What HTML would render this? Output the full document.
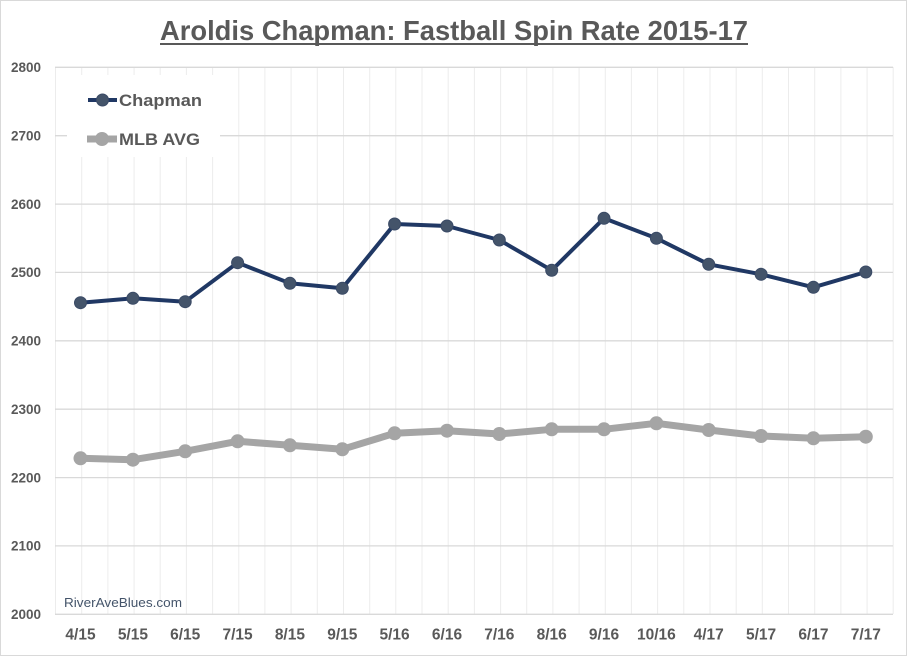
<!DOCTYPE html>
<html><head><meta charset="utf-8"><style>
html,body{margin:0;padding:0;background:#fff;}
svg{display:block;}
text{font-family:"Liberation Sans",Arial,sans-serif;}
</style></head><body>
<svg width="907" height="656" viewBox="0 0 907 656" xmlns="http://www.w3.org/2000/svg">
<rect x="0.5" y="0.5" width="906" height="655" fill="#fff" stroke="#d9d9d9" stroke-width="1"/>
<!-- title -->
<text x="160" y="40" font-size="28" font-weight="bold" fill="#595959" textLength="588" lengthAdjust="spacingAndGlyphs">Aroldis Chapman: Fastball Spin Rate 2015-17</text>
<line x1="160" y1="44" x2="748" y2="44" stroke="#595959" stroke-width="2"/>
<!-- vertical gridlines -->
<g stroke="#ececec" stroke-width="1">
<line x1="55.5" y1="67" x2="55.5" y2="614"/><line x1="81.7" y1="67" x2="81.7" y2="614"/><line x1="107.9" y1="67" x2="107.9" y2="614"/><line x1="134.1" y1="67" x2="134.1" y2="614"/><line x1="160.2" y1="67" x2="160.2" y2="614"/><line x1="186.4" y1="67" x2="186.4" y2="614"/><line x1="212.6" y1="67" x2="212.6" y2="614"/><line x1="238.8" y1="67" x2="238.8" y2="614"/><line x1="264.9" y1="67" x2="264.9" y2="614"/><line x1="291.1" y1="67" x2="291.1" y2="614"/><line x1="317.3" y1="67" x2="317.3" y2="614"/><line x1="343.5" y1="67" x2="343.5" y2="614"/><line x1="369.7" y1="67" x2="369.7" y2="614"/><line x1="395.8" y1="67" x2="395.8" y2="614"/><line x1="422.0" y1="67" x2="422.0" y2="614"/><line x1="448.2" y1="67" x2="448.2" y2="614"/><line x1="474.4" y1="67" x2="474.4" y2="614"/><line x1="500.6" y1="67" x2="500.6" y2="614"/><line x1="526.7" y1="67" x2="526.7" y2="614"/><line x1="552.9" y1="67" x2="552.9" y2="614"/><line x1="579.1" y1="67" x2="579.1" y2="614"/><line x1="605.3" y1="67" x2="605.3" y2="614"/><line x1="631.4" y1="67" x2="631.4" y2="614"/><line x1="657.6" y1="67" x2="657.6" y2="614"/><line x1="683.8" y1="67" x2="683.8" y2="614"/><line x1="710.0" y1="67" x2="710.0" y2="614"/><line x1="736.2" y1="67" x2="736.2" y2="614"/><line x1="762.3" y1="67" x2="762.3" y2="614"/><line x1="788.5" y1="67" x2="788.5" y2="614"/><line x1="814.7" y1="67" x2="814.7" y2="614"/><line x1="840.9" y1="67" x2="840.9" y2="614"/><line x1="867.1" y1="67" x2="867.1" y2="614"/><line x1="893.2" y1="67" x2="893.2" y2="614"/>
</g>
<!-- horizontal gridlines -->
<g stroke="#d9d9d9" stroke-width="1.3">
<line x1="55" y1="67.3" x2="893" y2="67.3"/><line x1="55" y1="135.7" x2="893" y2="135.7"/><line x1="55" y1="204.1" x2="893" y2="204.1"/><line x1="55" y1="272.4" x2="893" y2="272.4"/><line x1="55" y1="340.8" x2="893" y2="340.8"/><line x1="55" y1="409.2" x2="893" y2="409.2"/><line x1="55" y1="477.6" x2="893" y2="477.6"/><line x1="55" y1="545.9" x2="893" y2="545.9"/><line x1="55" y1="614.3" x2="893" y2="614.3"/>
</g>
<!-- y labels -->
<g font-size="13.5" font-weight="bold" fill="#595959" text-anchor="end">
<text x="41" y="72">2800</text><text x="41" y="140.4">2700</text><text x="41" y="208.8">2600</text><text x="41" y="277.1">2500</text><text x="41" y="345.5">2400</text><text x="41" y="413.9">2300</text><text x="41" y="482.3">2200</text><text x="41" y="550.6">2100</text><text x="41" y="619">2000</text>
</g>
<!-- x labels -->
<g font-size="15.5" font-weight="bold" fill="#595959" text-anchor="middle">
<text x="80.5" y="639.5">4/15</text><text x="132.9" y="639.5">5/15</text><text x="185.2" y="639.5">6/15</text><text x="237.6" y="639.5">7/15</text><text x="289.9" y="639.5">8/15</text><text x="342.3" y="639.5">9/15</text><text x="394.6" y="639.5">5/16</text><text x="447" y="639.5">6/16</text><text x="499.3" y="639.5">7/16</text><text x="551.7" y="639.5">8/16</text><text x="604" y="639.5">9/16</text><text x="656.4" y="639.5">10/16</text><text x="708.7" y="639.5">4/17</text><text x="761.1" y="639.5">5/17</text><text x="813.4" y="639.5">6/17</text><text x="865.8" y="639.5">7/17</text>
</g>
<text x="64" y="607" font-size="13" fill="#44546A" textLength="118" lengthAdjust="spacingAndGlyphs">RiverAveBlues.com</text>
<!-- MLB series -->
<polyline fill="none" stroke="#A5A5A5" stroke-width="7" stroke-linejoin="round" points="80.5,458.3 132.9,459.7 185.2,451.3 237.6,441.3 289.9,445.3 342.3,449.3 394.6,433.3 447,430.7 499.3,434 551.7,429.3 604,429.3 656.4,423.3 708.7,430 761.1,436 813.4,438.3 865.8,436.7"/>
<g fill="#A5A5A5">
<circle cx="80.5" cy="458.3" r="7"/><circle cx="132.9" cy="459.7" r="7"/><circle cx="185.2" cy="451.3" r="7"/><circle cx="237.6" cy="441.3" r="7"/><circle cx="289.9" cy="445.3" r="7"/><circle cx="342.3" cy="449.3" r="7"/><circle cx="394.6" cy="433.3" r="7"/><circle cx="447" cy="430.7" r="7"/><circle cx="499.3" cy="434" r="7"/><circle cx="551.7" cy="429.3" r="7"/><circle cx="604" cy="429.3" r="7"/><circle cx="656.4" cy="423.3" r="7"/><circle cx="708.7" cy="430" r="7"/><circle cx="761.1" cy="436" r="7"/><circle cx="813.4" cy="438.3" r="7"/><circle cx="865.8" cy="436.7" r="7"/>
</g>
<!-- Chapman series -->
<polyline fill="none" stroke="#203864" stroke-width="4" stroke-linejoin="round" points="80.5,302.7 132.9,298.3 185.2,301.7 237.6,262.7 289.9,283.3 342.3,288.3 394.6,224 447,226 499.3,240 551.7,270.3 604,218.3 656.4,238.3 708.7,264.3 761.1,274.3 813.4,287.3 865.8,272"/>
<g fill="#44546A" stroke="#3a4a66" stroke-width="1">
<circle cx="80.5" cy="302.7" r="6"/><circle cx="132.9" cy="298.3" r="6"/><circle cx="185.2" cy="301.7" r="6"/><circle cx="237.6" cy="262.7" r="6"/><circle cx="289.9" cy="283.3" r="6"/><circle cx="342.3" cy="288.3" r="6"/><circle cx="394.6" cy="224" r="6"/><circle cx="447" cy="226" r="6"/><circle cx="499.3" cy="240" r="6"/><circle cx="551.7" cy="270.3" r="6"/><circle cx="604" cy="218.3" r="6"/><circle cx="656.4" cy="238.3" r="6"/><circle cx="708.7" cy="264.3" r="6"/><circle cx="761.1" cy="274.3" r="6"/><circle cx="813.4" cy="287.3" r="6"/><circle cx="865.8" cy="272" r="6"/>
</g>
<!-- legend -->
<rect x="67" y="75" width="153" height="82" fill="#fff"/>
<line x1="88" y1="100" x2="117" y2="100" stroke="#203864" stroke-width="4"/>
<circle cx="102.5" cy="100" r="6" fill="#44546A" stroke="#3a4a66" stroke-width="1"/>
<text x="119" y="106" font-size="17" font-weight="bold" fill="#595959" textLength="83" lengthAdjust="spacingAndGlyphs">Chapman</text>
<line x1="87" y1="139" x2="117" y2="139" stroke="#A5A5A5" stroke-width="7"/>
<circle cx="102" cy="139" r="7" fill="#A5A5A5"/>
<text x="119" y="145" font-size="17" font-weight="bold" fill="#595959" textLength="81" lengthAdjust="spacingAndGlyphs">MLB AVG</text>
</svg>
</body></html>
